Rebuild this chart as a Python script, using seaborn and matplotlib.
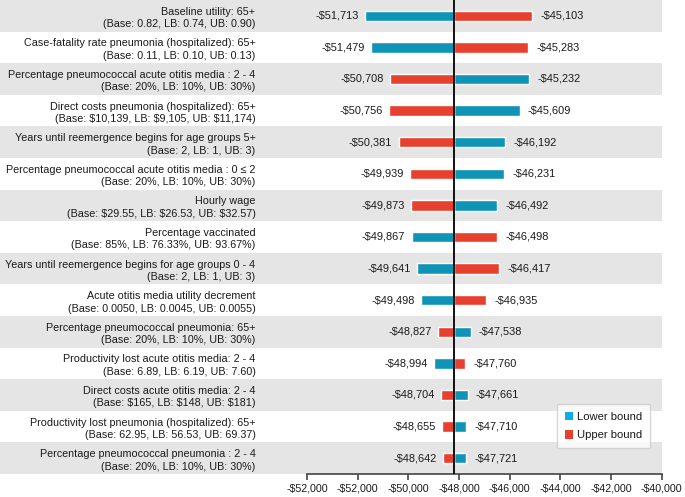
import pandas as pd
import seaborn as sns
import matplotlib.pyplot as plt
from matplotlib.patches import Patch

# Data
params = [
    "Baseline utility: 65+\n(Base: 0.82, LB: 0.74, UB: 0.90)",
    "Case-fatality rate pneumonia (hospitalized): 65+\n(Base: 0.11, LB: 0.10, UB: 0.13)",
    "Percentage pneumococcal acute otitis media : 2 - 4\n(Base: 20%, LB: 10%, UB: 30%)",
    "Direct costs pneumonia (hospitalized): 65+\n(Base: $10,139, LB: $9,105, UB: $11,174)",
    "Years until reemergence begins for age groups 5+\n(Base: 2, LB: 1, UB: 3)",
    "Percentage pneumococcal acute otitis media : 0 \u2264 2\n(Base: 20%, LB: 10%, UB: 30%)",
    "Hourly wage\n(Base: $29.55, LB: $26.53, UB: $32.57)",
    "Percentage vaccinated\n(Base: 85%, LB: 76.33%, UB: 93.67%)",
    "Years until reemergence begins for age groups 0 - 4\n(Base: 2, LB: 1, UB: 3)",
    "Acute otitis media utility decrement\n(Base: 0.0050, LB: 0.0045, UB: 0.0055)",
    "Percentage pneumococcal pneumonia: 65+\n(Base: 20%, LB: 10%, UB: 30%)",
    "Productivity lost acute otitis media: 2 - 4\n(Base: 6.89, LB: 6.19, UB: 7.60)",
    "Direct costs acute otitis media: 2 - 4\n(Base: $165, LB: $148, UB: $181)",
    "Productivity lost pneumonia (hospitalized): 65+\n(Base: 62.95, LB: 56.53, UB: 69.37)",
    "Percentage pneumococcal pneumonia : 2 - 4\n(Base: 20%, LB: 10%, UB: 30%)",
]
lower_bound = [-51713, -51479, -45232, -45609, -46192, -46231, -46492, -49867,
               -49641, -49498, -47538, -48994, -47661, -47710, -47721]
upper_bound = [-45103, -45283, -50708, -50756, -50381, -49939, -49873, -46498,
               -46417, -46935, -48827, -47760, -48704, -48655, -48642]
base_value = -48200

tick_values = [-54000, -52000, -50000, -48000, -46000, -44000, -42000, -40000]
tick_labels = ["-$52,000", "-$52,000", "-$50,000", "-$48,000",
               "-$46,000", "-$44,000", "-$42,000", "-$40,000"]

bar_colors = {"Lower bound": "#0f94b8", "Upper bound": "#e8402f"}
legend_colors = {"Lower bound": "#0aafe4", "Upper bound": "#e8402f"}

df = pd.DataFrame({
    "param": params * 2,
    "bound": ["Lower bound"] * len(params) + ["Upper bound"] * len(params),
    "value": lower_bound + upper_bound,
})
df["diff"] = df["value"] - base_value

sns.set_theme(style="white")
plt.rcParams["font.family"] = ["Liberation Sans", "DejaVu Sans"]
text_color = "#1a1a1a"

fig = plt.figure(figsize=(6.85, 4.97), dpi=100)
ax = fig.add_axes([0.448, 0.0463, 0.518, 0.9537])

sns.barplot(data=df, y="param", x="diff", hue="bound", order=params,
            palette=bar_colors, dodge=False, width=0.33, saturation=1,
            errorbar=None, legend=False, left=base_value, ax=ax, zorder=2)

# alternating grey bands, reaching over the labels to the left edge
for i in range(0, len(params), 2):
    band = ax.axhspan(i - 0.5, i + 0.5, xmin=-0.87, xmax=1,
                      facecolor="#e5e5e5", edgecolor="none", zorder=0)
    band.set_clip_on(False)

ax.axvline(base_value, color="black", lw=1.3, zorder=3)

# value labels at the bar ends
for i, (lo, up) in enumerate(zip(lower_bound, upper_bound)):
    for v in (lo, up):
        left_side = v < base_value
        ax.annotate(f"-${abs(v):,}", (v, i),
                    xytext=(-4.5 if left_side else 6, 0), textcoords="offset points",
                    ha="right" if left_side else "left", va="center",
                    fontsize=7.9, color=text_color)

ax.set_xlim(-54000, -40000)
ax.set_ylim(len(params) - 0.5, -0.5)
ax.set_xticks(tick_values)
ax.set_xticklabels(tick_labels)
ax.set(xlabel="", ylabel="")

for side in ["left", "top", "right"]:
    ax.spines[side].set_visible(False)
ax.spines["bottom"].set_color("#444444")
ax.spines["bottom"].set_linewidth(1.2)
ax.tick_params(axis="x", bottom=True, direction="out", length=4, width=1.2,
               color="#444444", labelsize=7.7, labelcolor=text_color, pad=2.5)
ax.tick_params(axis="y", left=False, length=0, labelsize=7.75,
               labelcolor=text_color, pad=37)
for lab in ax.get_yticklabels():
    lab.set_linespacing(1.3)

handles = [Patch(facecolor=c, edgecolor="none", label=k) for k, c in legend_colors.items()]
leg = ax.legend(handles=handles, loc="upper left", bbox_to_anchor=(0.704, 0.1477),
                fontsize=8.1, frameon=True, fancybox=False, edgecolor="#cccccc",
                handlelength=0.75, handleheight=0.75, handletextpad=0.4,
                borderpad=0.7, labelspacing=0.75, borderaxespad=0)
leg.get_frame().set_linewidth(1.0)
for t in leg.get_texts():
    t.set_color(text_color)

plt.savefig("out.png", dpi=100)
